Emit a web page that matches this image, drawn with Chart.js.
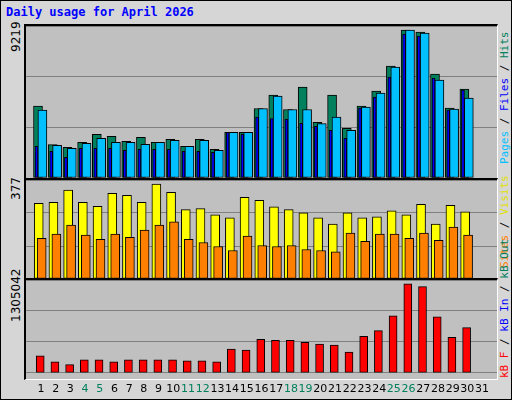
<!DOCTYPE html>
<html>
<head>
<meta charset="utf-8">
<script src="https://cdn.jsdelivr.net/npm/chart.js@4"></script>
<style>
body { margin:0; background:#fff; }
#frame { position:absolute; left:0; top:0; width:510px; height:398px; background:#d6d6d6; border:1px solid #000; }
#title { position:absolute; left:6px; top:5px; font:bold 12px "DejaVu Sans Mono", monospace; color:#0000ff; }
.box { position:absolute; left:24px; width:474px; border-top:2px solid #000; border-left:2px solid #000; border-right:1px solid #fff; border-bottom:1px solid #fff; box-sizing:border-box; background:#c0c0c0; }
.vl { position:absolute; transform:rotate(-90deg); transform-origin:left top; font:12px "DejaVu Sans", sans-serif; white-space:nowrap; }
.vr { position:absolute; transform:rotate(-90deg); transform-origin:left top; font:11px "DejaVu Sans Mono", monospace; white-space:nowrap; }
canvas { position:absolute; }
</style>
</head>
<body>
<div id="frame"></div>
<div id="title">Daily usage for April 2026</div>
<div class="box" style="top:24px;height:155px"></div>
<div class="box" style="top:178px;height:102px"></div>
<div class="box" style="top:278px;height:102px"></div>
<div class="vl" style="left:9px;top:52px">9219</div>
<div class="vl" style="left:9px;top:200px">377</div>
<div class="vl" style="left:9px;top:322px">1305042</div>
<div class="vr" style="left:498px;top:164px"><span style="color:#00c0ff">Pages</span> / <span style="color:#0000ff">Files</span> / <span style="color:#00805c">Hits</span></div>
<div class="vr" style="left:498px;top:268px"><span style="color:#ff8000">Sites</span> / <span style="color:#e0e000">Visits</span></div>
<div class="vr" style="left:498px;top:378px"><span style="color:#ff0000">kB F</span> / <span style="color:#0000ff">kB In</span> / <span style="color:#00805c">kB Out</span></div>
<canvas id="c1" style="left:26px;top:26px" width="471" height="152"></canvas>
<canvas id="c2" style="left:26px;top:180px" width="471" height="99"></canvas>
<canvas id="c3" style="left:26px;top:280px" width="471" height="118"></canvas>
<script>
var days = [1,2,3,4,5,6,7,8,9,10,11,12,13,14,15,16,17,18,19,20,21,22,23,24,25,26,27,28,29,30];
var dayTicks = [1,2,3,4,5,6,7,8,9,10,11,12,13,14,15,16,17,18,19,20,21,22,23,24,25,26,27,28,29,30,31];
var weekendDays = [4,5,11,12,18,19,25,26];
var hits = [4474,2081,1915,2227,2726,2601,2289,2539,2227,2414,1977,2414,1790,2851,2851,4329,5161,4266,5660,3475,5161,3101,4474,5411,6972,9219,9094,6472,4349,5536];
var pages = [4225,2039,1852,2164,2476,2227,2227,2102,2227,2351,1977,2351,1727,2851,2851,4329,5099,4266,4266,3392,3788,2976,4412,5286,6909,9219,9032,6098,4287,4974];
var files = [1977,1665,1290,1852,1852,1852,1727,1790,1790,1790,1665,1665,1602,2851,2726,3788,3704,3663,3413,3226,2976,2476,4349,5036,6285,8969,8844,6222,4225,5473];
var visits = [300,304,353,304,288,340,332,304,377,344,275,279,255,243,324,312,286,275,263,243,218,263,243,247,271,255,296,218,292,267];
var sites = [161,178,214,174,157,178,165,194,214,227,157,145,129,113,170,133,129,133,117,113,108,182,149,178,178,161,182,153,206,174];
var kbF = [247672,161940,119073,190518,190518,161940,190518,190518,190518,190518,176228,176228,161940,347700,333411,490590,476293,476293,447715,419137,404849,304830,533457,619189,833516,1305042,1262176,819227,519168,662048];

function pts(arr, off) {
  return arr.map(function(v, i){ return {x: days[i] + off, y: v}; });
}
function ds(arr, off, color, w) {
  return { data: pts(arr, off), backgroundColor: color, borderColor: '#000', borderWidth: 1, barThickness: w, grouped: false, borderSkipped: false };
}
function opts(max, showX) {
  return {
    responsive: false, animation: false,
    layout: { padding: 0 },
    plugins: { legend: { display: false }, tooltip: { enabled: false } },
    scales: {
      x: { type: 'linear', min: 0.5, max: 31.5, display: showX,
           grid: { display: false }, border: { display: false },
           afterBuildTicks: function(s){ s.ticks = dayTicks.map(function(d){ return {value: d}; }); },
           ticks: { autoSkip: false, maxRotation: 0, padding: 2,
                    font: { family: 'DejaVu Sans', size: 11 },
                    color: function(c){ return weekendDays.indexOf(c.tick.value) >= 0 ? '#00805c' : '#000'; } } },
      y: { min: 0, max: max, display: true,
           ticks: { display: false, stepSize: max / 3 },
           grid: { color: '#808080', drawTicks: false, lineWidth: 1 },
           border: { display: false } }
    }
  };
}

new Chart(document.getElementById('c1'), {
  type: 'bar',
  data: { datasets: [
    ds(pages, 0.1, '#00c0ff', 9),
    ds(files, -0.3, '#0000ff', 3),
    ds(hits, -0.2, '#00805c', 9)
  ] },
  options: opts(9219 * 152 / 148, false)
});
new Chart(document.getElementById('c2'), {
  type: 'bar',
  data: { datasets: [
    ds(sites, 0.05, '#ff8000', 9),
    ds(visits, -0.15, '#ffff00', 9)
  ] },
  options: opts(377 * 99 / 95, false)
});
new Chart(document.getElementById('c3'), {
  type: 'bar',
  data: { datasets: [ ds(kbF, -0.05, '#ff0000', 8) ] },
  options: opts(1305042 * 99 / 95, true)
});
</script>
</body>
</html>
